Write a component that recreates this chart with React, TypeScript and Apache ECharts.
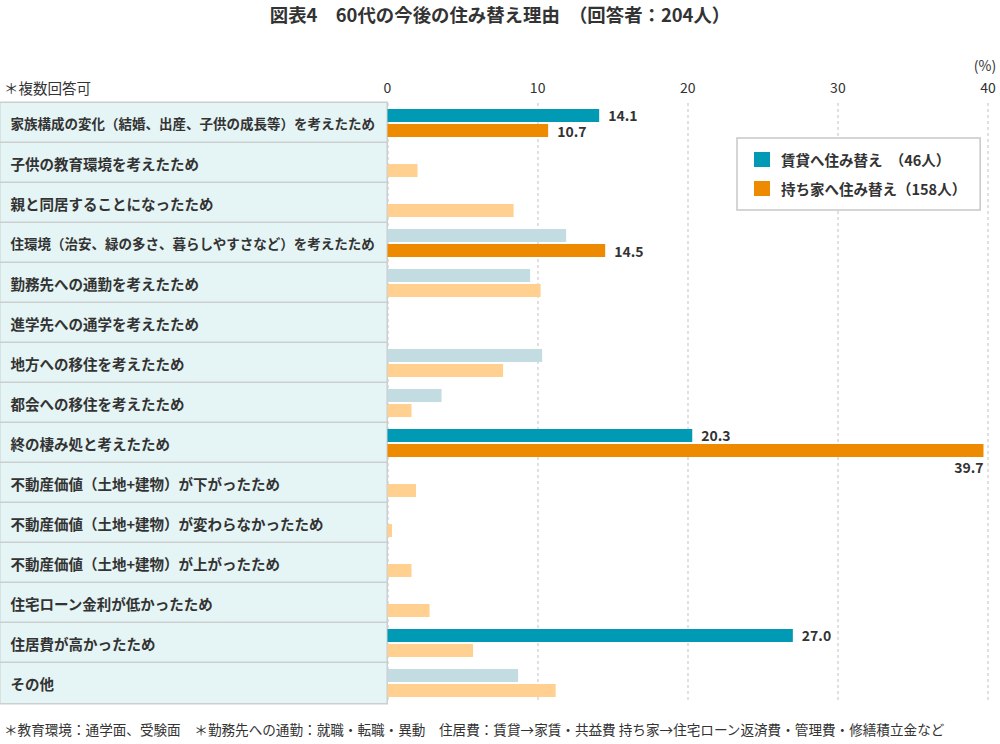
import React, { useEffect, useRef } from "react";
import * as echarts from "echarts";

const FONT = '"Noto Sans CJK JP", "Noto Sans", sans-serif';

const categories = [
  "家族構成の変化（結婚、出産、子供の成長等）を考えたため",
  "子供の教育環境を考えたため",
  "親と同居することになったため",
  "住環境（治安、緑の多さ、暮らしやすさなど）を考えたため",
  "勤務先への通勤を考えたため",
  "進学先への通学を考えたため",
  "地方への移住を考えたため",
  "都会への移住を考えたため",
  "終の棲み処と考えたため",
  "不動産価値（土地+建物）が下がったため",
  "不動産価値（土地+建物）が変わらなかったため",
  "不動産価値（土地+建物）が上がったため",
  "住宅ローン金利が低かったため",
  "住居費が高かったため",
  "その他",
];

const rentValues = [14.1, 0, 0, 11.9, 9.5, 0, 10.3, 3.6, 20.3, 0, 0, 0, 0, 27.0, 8.7];
const ownValues = [10.7, 2.0, 8.4, 14.5, 10.2, 0, 7.7, 1.6, 39.7, 1.9, 0.3, 1.6, 2.8, 5.7, 11.2];

const rentHighlighted = [0, 8, 13];
const ownHighlighted = [0, 3, 8];

const seriesNames = ["賃貸へ住み替え　（46人）", "持ち家へ住み替え（158人）"];
const xTicks = { min: 0, max: 40, interval: 10 };

const TEAL = "#009ab4";
const TEAL_LIGHT = "#c2dce1";
const ORANGE = "#ee8a00";
const ORANGE_LIGHT = "#ffd08f";

const titleText = "図表4　60代の今後の住み替え理由　（回答者：204人）";
const noteTop = "＊複数回答可";
const noteBottom =
  "＊教育環境：通学面、受験面　＊勤務先への通勤：就職・転職・異動　住居費：賃貸→家賃・共益費 持ち家→住宅ローン返済費・管理費・修繕積立金など";

const labelStyle = {
  fontSize: 14,
  fontWeight: "bold",
  color: "#333",
  fontFamily: FONT,
};

function buildData(values: number[], hi: number[], strong: string, light: string) {
  return values.map((v, i) => {
    const isHi = hi.includes(i);
    const item: any = {
      value: v,
      itemStyle: { color: isHi ? strong : light },
      label: { show: isHi },
    };
    if (isHi && v > 36) {
      item.label = {
        show: true,
        position: ["100%", "100%"],
        align: "right",
        verticalAlign: "top",
        offset: [0, 3],
      };
    }
    return item;
  });
}

const catText = { fontWeight: "bold", color: "#333", fontFamily: FONT, lineHeight: 40 };

export default function App() {
  const ref = useRef<HTMLDivElement>(null);
  useEffect(() => {
    document.body.style.margin = "0";
    if (!ref.current) return;
    const chart = echarts.init(ref.current, undefined, { renderer: "svg" });
    const option: any = {
      animation: false,
      textStyle: { fontFamily: FONT },
      grid: {
        left: 387.5,
        right: 12,
        top: 103,
        height: 600,
        containLabel: false,
        outerBoundsMode: "none",
      },
      xAxis: {
        type: "value",
        position: "top",
        min: xTicks.min,
        max: xTicks.max,
        interval: xTicks.interval,
        axisLine: { show: false },
        axisTick: { show: false },
        axisLabel: { margin: 9, fontSize: 14, color: "#333", fontFamily: FONT },
        splitLine: { lineStyle: { type: [3, 3], color: "#d6d6d6", width: 1.5 } },
      },
      yAxis: {
        type: "category",
        inverse: true,
        data: categories,
        axisLine: { show: false },
        axisTick: { show: false },
        axisLabel: {
          interval: 0,
          showMinLabel: true,
          showMaxLabel: true,
          hideOverlap: false,
          align: "left",
          verticalAlign: "middle",
          margin: 387,
          fontSize: 14.5,
          fontWeight: "bold",
          color: "#333",
          fontFamily: FONT,
          backgroundColor: "#e5f4f4",
          borderColor: "#cbcfcf",
          borderWidth: 1.5,
          width: 376,
          height: 40,
          lineHeight: 40,
          padding: [0, 0, 0, 10],
          formatter: (v: string) => (v.length > 24 ? `{s|${v}}` : `{n|${v}}`),
          rich: {
            s: { ...catText, fontSize: 13.5 },
            n: { ...catText, fontSize: 14.5 },
          },
        },
      },
      legend: {
        left: 737,
        top: 138,
        orient: "vertical",
        backgroundColor: "#fff",
        borderColor: "#c8c8c8",
        borderWidth: 1.5,
        borderRadius: 0,
        padding: [14, 14, 14, 17],
        itemWidth: 16,
        itemHeight: 15,
        itemGap: 14,
        icon: "rect",
        textStyle: { fontSize: 14.5, fontWeight: "bold", color: "#333", fontFamily: FONT, padding: [0, 0, 0, 6] },
        data: seriesNames,
      },
      series: [
        {
          type: "bar",
          name: seriesNames[0],
          itemStyle: { color: TEAL },
          barWidth: 13,
          barGap: "16%",
          label: { ...labelStyle, position: "right", distance: 9, formatter: (p: any) => Number(p.value).toFixed(1) },
          data: buildData(rentValues, rentHighlighted, TEAL, TEAL_LIGHT),
        },
        {
          type: "bar",
          name: seriesNames[1],
          itemStyle: { color: ORANGE },
          barWidth: 13,
          barGap: "16%",
          label: { ...labelStyle, position: "right", distance: 9, formatter: (p: any) => Number(p.value).toFixed(1) },
          data: buildData(ownValues, ownHighlighted, ORANGE, ORANGE_LIGHT),
        },
      ],
      graphic: [
        {
          type: "text",
          x: 500,
          y: 14,
          style: {
            text: titleText,
            fontSize: 18.4,
            fontWeight: "bold",
            fill: "#333",
            fontFamily: FONT,
            align: "center",
            verticalAlign: "middle",
          },
        },
        {
          type: "text",
          x: 4,
          y: 87,
          style: { text: noteTop, fontSize: 14.5, fill: "#333", fontFamily: FONT, verticalAlign: "middle" },
        },
        {
          type: "text",
          x: 985,
          y: 65,
          style: { text: "(%)", fontSize: 14, fill: "#333", fontFamily: FONT, align: "center", verticalAlign: "middle" },
        },
        {
          type: "text",
          x: 4,
          y: 729,
          style: { text: noteBottom, fontSize: 13.6, fill: "#333", fontFamily: FONT, verticalAlign: "middle" },
        },
      ],
    };
    chart.setOption(option);
    return () => chart.dispose();
  }, []);
  return <div ref={ref} style={{ width: 1000, height: 744 }} />;
}
